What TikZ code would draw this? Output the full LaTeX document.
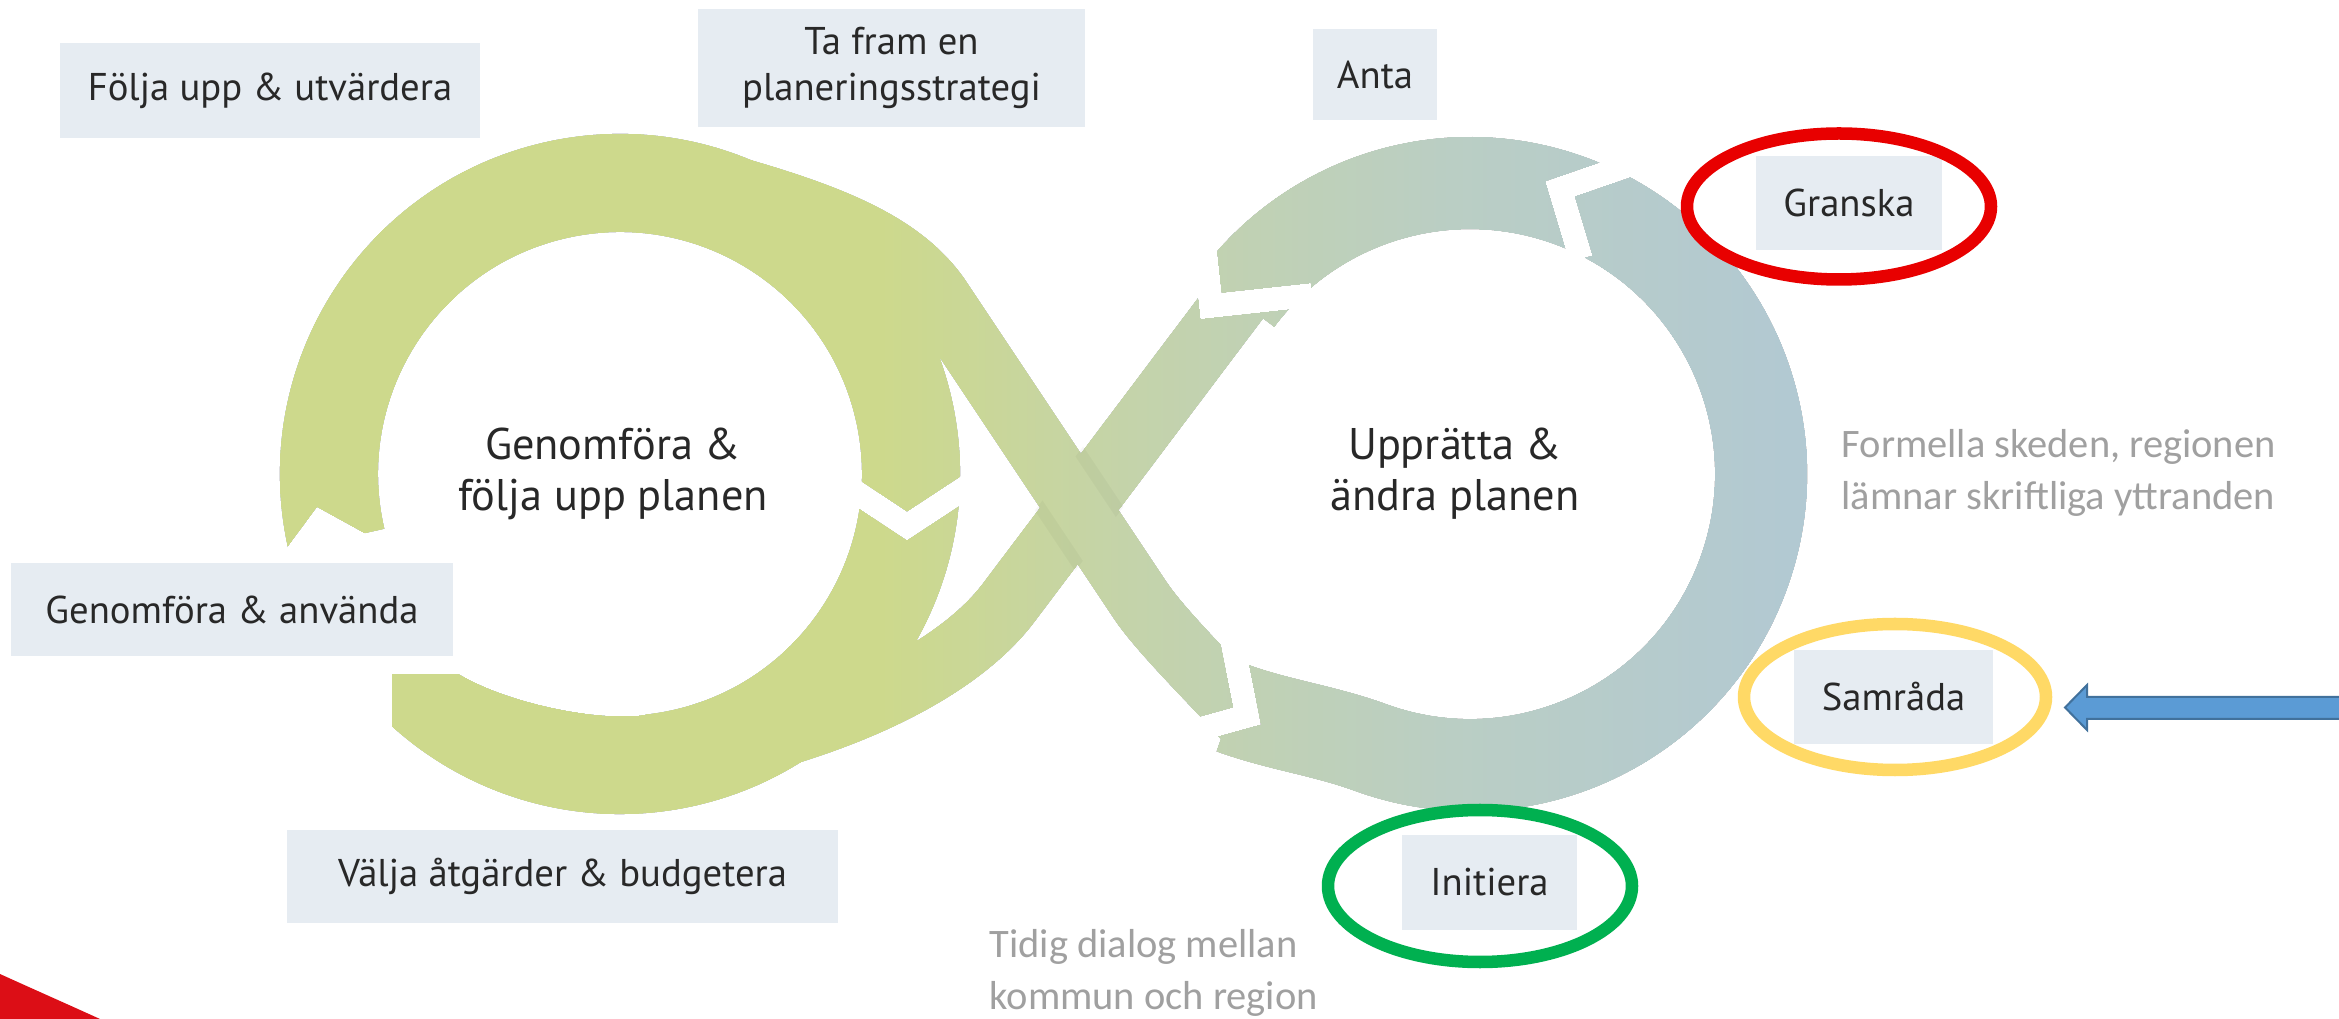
\documentclass[tikz,border=0pt]{standalone}
\usepackage{fontspec}
\setmainfont{PT Sans}
\newfontfamily\notefont{Carlito}
\usepackage{xcolor}

\definecolor{ringA}{RGB}{205,217,140}
\definecolor{ringB}{RGB}{196,211,170}
\definecolor{ringC}{RGB}{186,206,196}
\definecolor{ringD}{RGB}{177,200,212}
\definecolor{boxfill}{RGB}{230,236,242}
\definecolor{boxtext}{RGB}{40,40,40}
\definecolor{notegray}{RGB}{160,160,160}
\definecolor{markred}{RGB}{232,0,0}
\definecolor{markyellow}{RGB}{255,217,102}
\definecolor{markgreen}{RGB}{0,176,80}
\definecolor{arrowblue}{RGB}{91,155,213}
\definecolor{arrowedge}{RGB}{65,113,156}
\definecolor{cornerred}{RGB}{220,14,22}

\tikzset{
  phase/.style={fill=boxfill, text=boxtext, inner sep=0pt, align=center,
    font=\fontsize{11}{13}\selectfont},
  centretext/.style={text=boxtext, align=center, inner sep=0pt,
    font=\fontsize{12.6}{14.5}\selectfont},
  notetext/.style={text=notegray, align=left, inner sep=0pt,
    font=\notefont\fontsize{11.5}{14.8}\selectfont},
  band/.style={line width=0.98cm},
  strand/.style={line width=0.64cm},
  gapcut/.style={white, line width=0.24cm, line join=miter},
  shadowline/.style={black, opacity=0.03, line width=0.12cm},
  markring/.style={line width=0.125cm},
}

\begin{document}
\begin{tikzpicture}[x=0.01cm, y=-0.01cm]
\useasboundingbox (0,0) rectangle (2339,1019);
\fill[white] (0,0) rectangle (2339,1019);

\coordinate (L) at (620,474);
\coordinate (R) at (1470,474);

% the loop, drawn black and coloured by the blend below
\draw[band] (L) ++(-193:291) arc[start angle=-193, end angle=150, radius=291];
\draw[band, line width=0.92cm] (1232,708) .. controls (1279,725) and (1323.5,730.4) .. (1370.5,747.5)
  arc[start angle=110, end angle=-143, radius=291];
\draw[strand] (1237.6,298.9) -- (1008.8,602.5) .. controls (954.6,674.4) and (828,732.8) .. (670.5,760.6);
\draw[strand] (699,179) .. controls (824.6,212.7) and (901,241.9) .. (940,300) -- (1140,600)
  .. controls (1162,633) and (1219,688) .. (1245,718);

% arrow heads and tails
\fill[white] (317,507) -- (266,576) -- (386,545) -- cycle;
\fill[white] (300,560) -- (480,560) -- (480,674) -- (392,674) -- (392,760) -- (300,760) -- cycle;
\fill[white] (480,640) -- (457,673) .. controls (500,700) and (590,722) .. (645.4,715.1)
  -- (645.4,640) -- cycle;
\draw[gapcut] (848,487) -- (907,526) -- (971,484);
\draw[gapcut] (1232,640) -- (1247,716) -- (1168,738);
\draw[gapcut] (1638,162) -- (1560,189) -- (1581,259);
\draw[gapcut] (1203,232) -- (1211,306) -- (1312,295);

\begin{scope}[blend mode=lighten]
  \fill[ringA] (250,110) rectangle (882,840);
  \shade[left color=ringA, right color=ringB] (880,110) rectangle (1132,840);
  \shade[left color=ringB, right color=ringC] (1130,110) rectangle (1452,840);
  \shade[left color=ringC, right color=ringD] (1450,110) rectangle (1840,840);
\end{scope}

% shade where one strand passes over the other
\begin{scope}
  \clip (1265,319) -- (1036,623) -- (981,582) -- (1210,278) -- cycle;
  \draw[shadowline] (913,317) -- (1113,617);
  \draw[shadowline] (967,283) -- (1167,583);
\end{scope}

% corner
\fill[cornerred] (0,974) .. controls (33,989) and (67,1004) .. (100,1019) -- (0,1019) -- cycle;

% phases
\node[phase, minimum width=4.2cm, minimum height=0.95cm] (folja) at (270,90.5) {Följa upp \& utvärdera};
\node[phase, minimum width=3.87cm, minimum height=1.18cm] (tafram) at (891.5,68) {Ta fram en\\planeringsstrategi};
\node[phase, minimum width=1.24cm, minimum height=0.91cm] (anta) at (1375,74.5) {Anta};
\node[phase, minimum width=1.86cm, minimum height=0.94cm] (granska) at (1849,203) {Granska};
\node[phase, minimum width=4.42cm, minimum height=0.93cm] (anvanda) at (232,609.5) {Genomföra \& använda};
\node[phase, minimum width=5.51cm, minimum height=0.93cm] (valja) at (562.5,876.5) {Välja åtgärder \& budgetera};
\node[phase, minimum width=1.75cm, minimum height=0.95cm] (initiera) at (1489.5,882.5) {Initiera};
\node[phase, minimum width=1.99cm, minimum height=0.94cm] (samrada) at (1893.5,697) {Samråda};

\node[centretext] (genomfora) at (613,474) {Genomföra \&\\följa upp planen};
\node[centretext] (uppratta) at (1455,474) {Upprätta \&\\ändra planen};

\node[notetext, anchor=north west] (formella) at (1841,429) {Formella skeden, regionen\\lämnar skriftliga yttranden};
\node[notetext, anchor=north west] (tidig) at (989,929) {Tidig dialog mellan\\kommun och region};

% markings
\draw[markring, markred] (1839,206.5) ellipse[x radius=152, y radius=73];
\draw[markring, markyellow] (1895,697) ellipse[x radius=151, y radius=73];
\draw[markring, markgreen] (1480,886) ellipse[x radius=152, y radius=76];

\filldraw[fill=arrowblue, draw=arrowedge, line width=0.02cm]
  (2345,697) -- (2087,697) -- (2087,685) -- (2065,707.5) -- (2087,730) -- (2087,719) -- (2345,719) -- cycle;
\end{tikzpicture}
\end{document}
